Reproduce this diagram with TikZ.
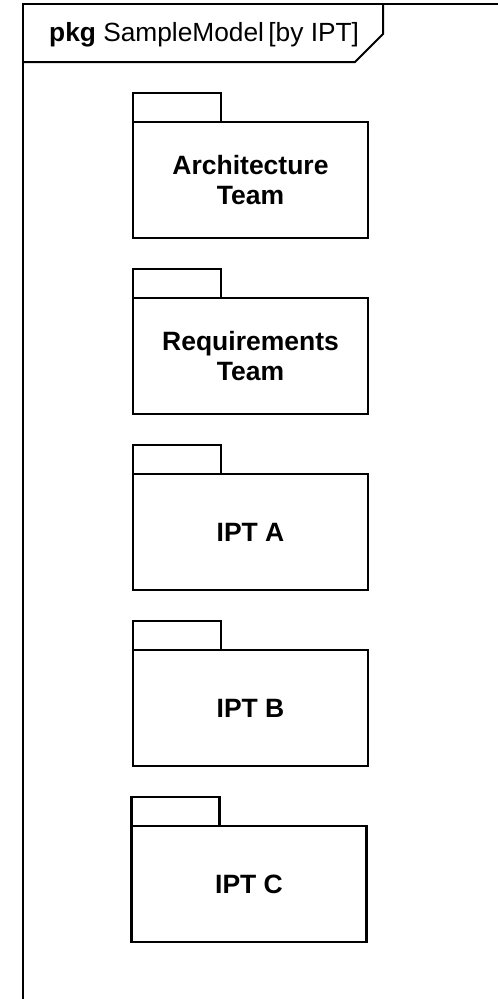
\documentclass[tikz,border=0pt]{standalone}
\usepackage{fontspec}
\setmainfont{Liberation Sans}
\begin{document}
\begin{tikzpicture}[x=1pt,y=-1pt,
  frameline/.style={line width=2pt,line join=miter},
  pkgline/.style={line width=2.7pt,line join=miter},
  pkgbody/.style={pkgline,draw,rectangle,minimum width=235pt,minimum height=116pt,
    inner sep=0pt,outer sep=0pt,align=center,font=\fontsize{26.5}{30}\selectfont\bfseries},
  titletext/.style={inner sep=0pt,anchor=base west,font=\fontsize{26.3}{30}\selectfont}]
\useasboundingbox (0,0) rectangle (498,999);
\clip (0,0) rectangle (498,999);
% diagram frame and its name tab
\draw[frameline] (23,1010) -- (23,4) -- (510,4);
\draw[frameline] (23,62) -- (355,62) -- (383,34) -- (383,4);
\node[titletext] (title) at (49,41) {\textbf{pkg} SampleModel\,[by IPT]};
% packages
\node[pkgbody] (arch) at (250.5,180) {Architecture\\Team};
\node[pkgbody] (req)  at (250.5,356) {Requirements\\Team};
\node[pkgbody] (ipta) at (250.5,532) {IPT A};
\node[pkgbody] (iptb) at (250.5,708) {IPT B};
\node[pkgbody] (iptc) at (249,884)   {IPT C};
\foreach \p in {arch,req,ipta,iptb,iptc}
  \draw[pkgline] (\p.north west) rectangle ++(88,-29);
\end{tikzpicture}
\end{document}
